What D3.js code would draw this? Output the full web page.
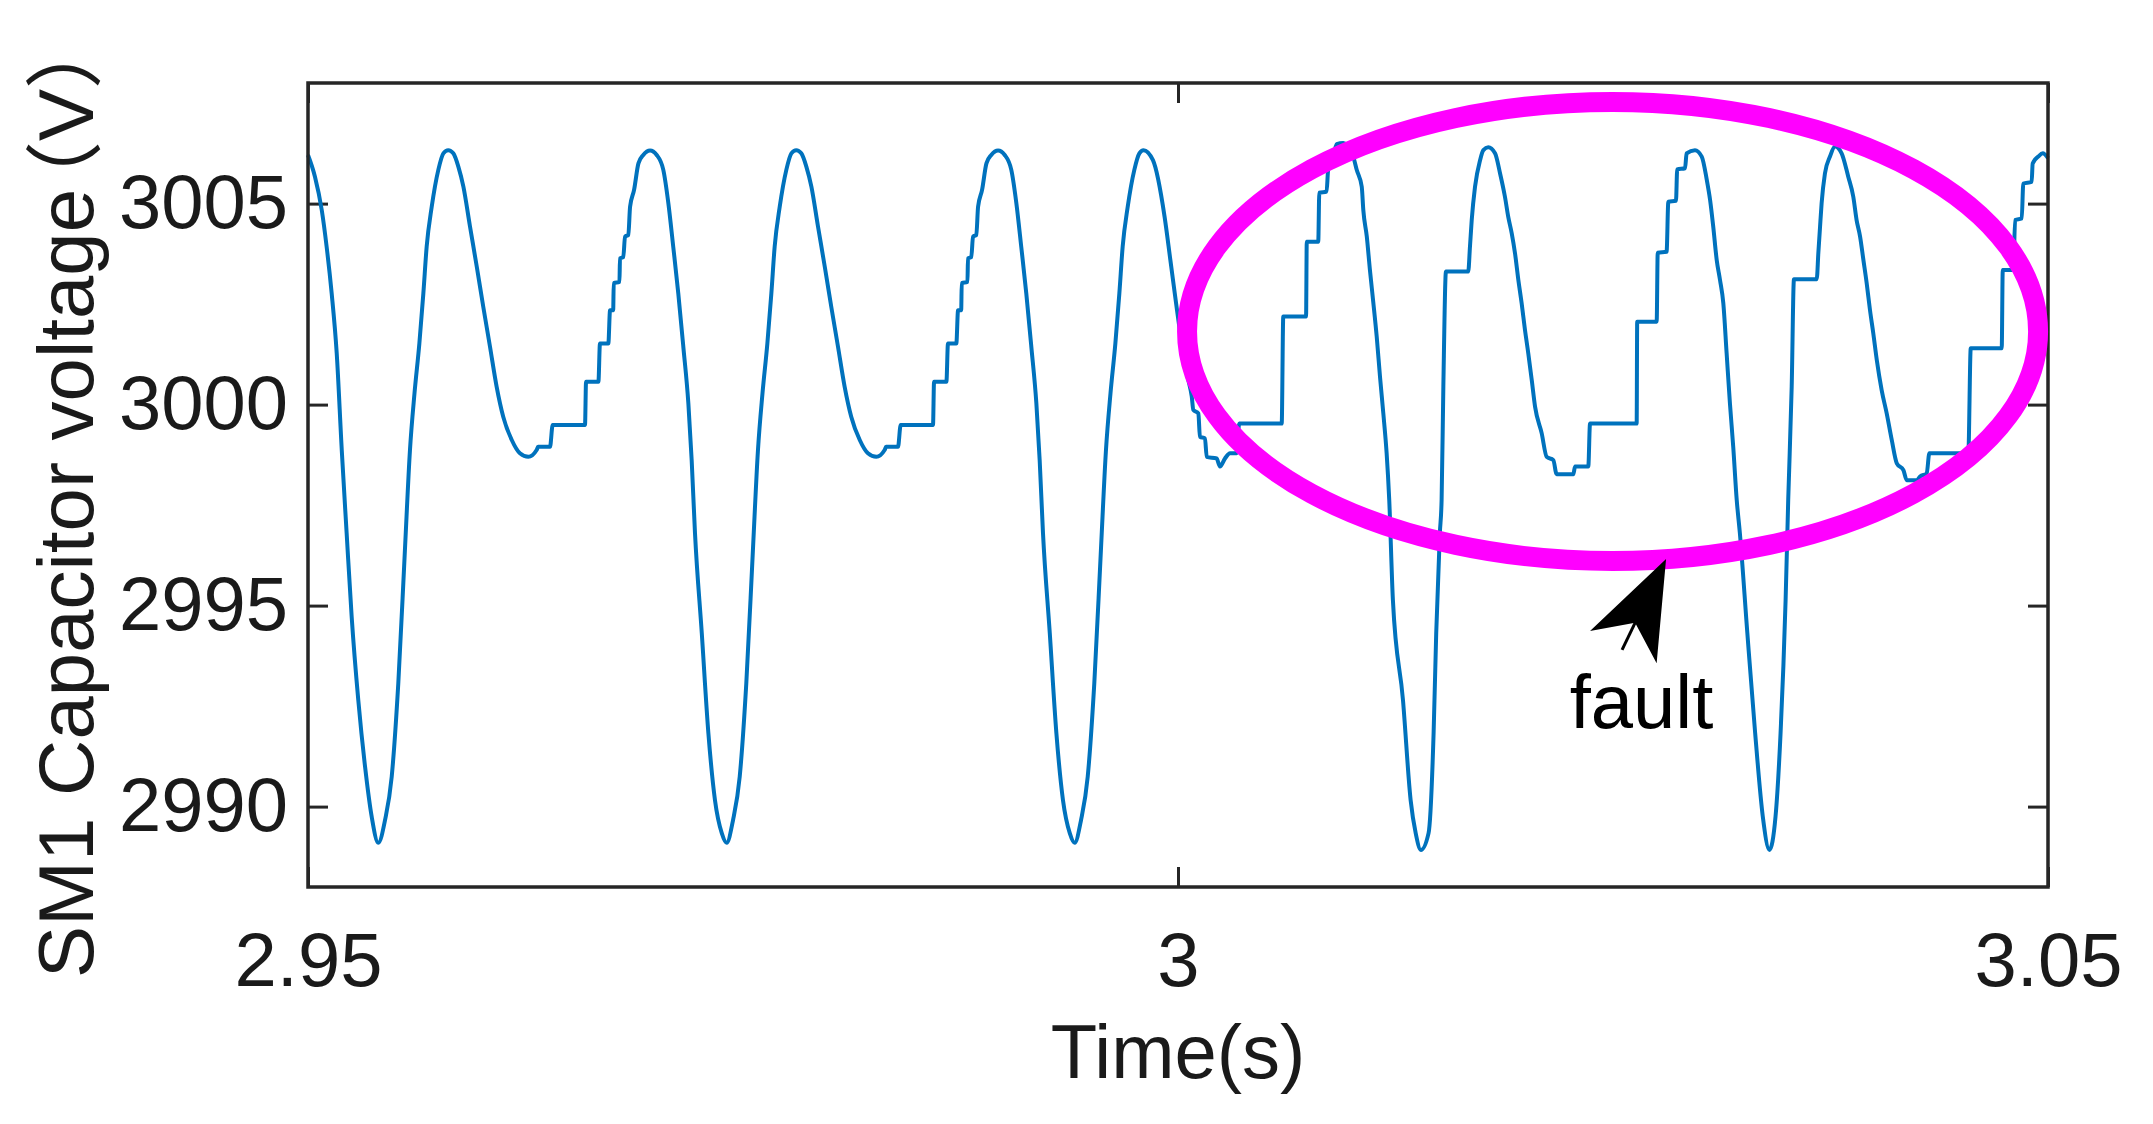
<!DOCTYPE html>
<html>
<head>
<meta charset="utf-8">
<script src="https://cdn.jsdelivr.net/npm/d3@7/dist/d3.min.js"></script>
<style>
  body { margin: 0; background: #fff; }
  text { font-family: "Liberation Sans", Arial, "Noto Sans CJK SC", sans-serif; fill: #1a1a1a; }
</style>
</head>
<body>
<div class="container"></div>
<script>
// SM1 capacitor voltage (s, V)
const timeS = [
  // start, falling edge
  2.95000, 2.95040, 2.95079, 2.95107, 2.95136, 2.95165, 2.95194, 2.95222, 2.95251, 2.95289, 2.95328, 2.95366,
  // period 1
  2.95404, 2.95443, 2.95481, 2.95519, 2.95557, 2.95586, 2.95612, 2.95640, 2.95663, 2.95682, 2.95711, 2.95749,
  2.95778, 2.95806, 2.95835, 2.95864, 2.95893, 2.95931, 2.95970, 2.96007, 2.96046, 2.96084, 2.96122, 2.96171,
  2.96218, 2.96266, 2.96314, 2.96322, 2.96391, 2.96406, 2.96592, 2.96598, 2.96669, 2.96678, 2.96726, 2.96736,
  2.96754, 2.96757, 2.96790, 2.96793, 2.96812, 2.96822, 2.96841, 2.96851, 2.96874, 2.96899, 2.96927, 2.96966,
  2.97004, 2.97042, 2.97071, 2.97099, 2.97128, 2.97157, 2.97186, 2.97205, 2.97224, 2.97263, 2.97301, 2.97339,
  2.97378, 2.97406,
  // period 2
  2.97443, 2.97481, 2.97519, 2.97557, 2.97586, 2.97612, 2.97640, 2.97663, 2.97682, 2.97711, 2.97749, 2.97778,
  2.97806, 2.97835, 2.97864, 2.97893, 2.97931, 2.97970, 2.98007, 2.98046, 2.98084, 2.98122, 2.98171, 2.98218,
  2.98266, 2.98314, 2.98322, 2.98391, 2.98406, 2.98592, 2.98598, 2.98669, 2.98678, 2.98726, 2.98736, 2.98754,
  2.98757, 2.98790, 2.98793, 2.98812, 2.98822, 2.98841, 2.98851, 2.98874, 2.98899, 2.98927, 2.98966, 2.99004,
  2.99042, 2.99071, 2.99099, 2.99128, 2.99157, 2.99186, 2.99205, 2.99224, 2.99263, 2.99301, 2.99339, 2.99378,
  2.99406,
  // period 3, fault near 3.0 s
  2.99443, 2.99481, 2.99519, 2.99557, 2.99586, 2.99612, 2.99640, 2.99663, 2.99682, 2.99711, 2.99749, 2.99778,
  2.99802, 2.99856, 2.99923, 2.99956, 2.99989, 3.00023, 3.00057, 3.00079, 3.00088, 3.00117, 3.00126, 3.00155,
  3.00165, 3.00222, 3.00241, 3.00270, 3.00299, 3.00337, 3.00352, 3.00596, 3.00605, 3.00736, 3.00740, 3.00806,
  3.00812, 3.00854, 3.00863, 3.00885, 3.00912, 3.00950, 3.01007, 3.01027, 3.01056, 3.01065, 3.01085, 3.01103,
  3.01122, 3.01142, 3.01161, 3.01180, 3.01199, 3.01214, 3.01235, 3.01293, 3.01337, 3.01366, 3.01396,
  // period 4
  3.01440, 3.01469, 3.01484, 3.01505, 3.01515, 3.01525, 3.01540, 3.01668, 3.01678, 3.01688, 3.01707, 3.01736,
  3.01755, 3.01783, 3.01822, 3.01851, 3.01879, 3.01898, 3.01918, 3.01937, 3.01956, 3.01975, 3.01994, 3.02013,
  3.02033, 3.02052, 3.02090, 3.02119, 3.02157, 3.02176, 3.02272, 3.02282, 3.02358, 3.02368, 3.02636, 3.02639,
  3.02751, 3.02757, 3.02808, 3.02818, 3.02862, 3.02869, 3.02914, 3.02923, 3.02971, 3.03010, 3.03039, 3.03058,
  3.03076, 3.03096, 3.03115, 3.03134, 3.03153, 3.03172, 3.03191, 3.03211, 3.03229, 3.03272, 3.03317, 3.03361,
  3.03399,
  // period 5
  3.03434, 3.03463, 3.03492, 3.03507, 3.03527, 3.03540, 3.03671, 3.03680, 3.03690, 3.03699, 3.03718, 3.03747,
  3.03776, 3.03814, 3.03852, 3.03881, 3.03900, 3.03920, 3.03939, 3.03958, 3.03977, 3.03996, 3.04016, 3.04044,
  3.04073, 3.04102, 3.04131, 3.04169, 3.04188, 3.04246, 3.04265, 3.04303, 3.04318, 3.04542, 3.04556, 3.04734,
  3.04740, 3.04801, 3.04811, 3.04849, 3.04858, 3.04906, 3.04912, 3.04944, 3.04970, 3.05000
];

const capVoltage = [
  3006.21, 3005.67, 3004.84, 3003.93, 3002.77, 3001.28, 2998.87, 2996.81, 2994.72, 2992.65, 2990.99, 2989.75,
  2989.10, 2989.67, 2990.74, 2993.07, 2996.38, 2998.87, 3000.28, 3001.52, 3002.77, 3003.93, 3004.92, 3005.84,
  3006.25, 3006.33, 3006.25, 3005.92, 3005.42, 3004.43, 3003.43, 3002.44, 3001.44, 3000.45, 2999.70, 2999.12,
  2998.79, 2998.70, 2998.87, 2998.95, 2998.95, 2999.49, 2999.49, 3000.57, 3000.57, 3001.52, 3001.52, 3002.35,
  3002.35, 3003.02, 3003.05, 3003.64, 3003.67, 3004.18, 3004.22, 3004.92, 3005.34, 3006.00, 3006.21, 3006.32,
  3006.21, 3005.84, 3005.01, 3003.93, 3002.77, 3001.44, 3000.03, 2998.62, 2996.81, 2994.32, 2991.83, 2990.16,
  2989.34, 2989.10,
  2989.67, 2990.74, 2993.07, 2996.38, 2998.87, 3000.28, 3001.52, 3002.77, 3003.93, 3004.92, 3005.84, 3006.25,
  3006.33, 3006.25, 3005.92, 3005.42, 3004.43, 3003.43, 3002.44, 3001.44, 3000.45, 2999.70, 2999.12, 2998.79,
  2998.70, 2998.87, 2998.95, 2998.95, 2999.49, 2999.49, 3000.57, 3000.57, 3001.52, 3001.52, 3002.35, 3002.35,
  3003.02, 3003.05, 3003.64, 3003.67, 3004.18, 3004.22, 3004.92, 3005.34, 3006.00, 3006.21, 3006.32, 3006.21,
  3005.84, 3005.01, 3003.93, 3002.77, 3001.44, 3000.03, 2998.62, 2996.81, 2994.32, 2991.83, 2990.16, 2989.34,
  2989.10,
  2989.67, 2990.74, 2993.07, 2996.38, 2998.87, 3000.28, 3001.52, 3002.77, 3003.93, 3004.92, 3005.84, 3006.25,
  3006.33, 3006.08, 3004.67, 3003.60, 3002.52, 3001.48, 3000.66, 3000.20, 2999.87, 2999.78, 2999.20, 2999.16,
  2998.70, 2998.66, 2998.46, 2998.66, 2998.79, 2998.79, 2999.53, 2999.53, 3002.19, 3002.19, 3004.05, 3004.05,
  3005.27, 3005.30, 3005.84, 3006.01, 3006.48, 3006.51, 3006.17, 3005.84, 3005.42, 3004.84, 3004.18, 3003.35,
  3002.56, 3001.69, 3000.69, 2999.78, 2998.79, 2997.63, 2995.14, 2992.65, 2990.16, 2989.34, 2988.92,
  2989.34, 2991.83, 2994.32, 2996.81, 2997.63, 3000.45, 3003.31, 3003.31, 3003.93, 3004.59, 3005.42, 3006.08,
  3006.33, 3006.40, 3006.25, 3005.75, 3005.17, 3004.67, 3004.26, 3003.76, 3003.10, 3002.52, 3001.86, 3001.28,
  3000.61, 2999.95, 2999.29, 2998.70, 2998.62, 2998.27, 2998.27, 2998.46, 2998.46, 2999.53, 2999.53, 3002.06,
  3002.06, 3003.78, 3003.80, 3005.05, 3005.07, 3005.85, 3005.88, 3006.25, 3006.33, 3006.17, 3005.59, 3005.09,
  3004.43, 3003.60, 3003.10, 3002.52, 3001.28, 3000.03, 2998.95, 2997.63, 2996.81, 2994.32, 2991.83, 2989.75,
  2988.92,
  2989.75, 2991.83, 2995.14, 2997.63, 3000.45, 3003.12, 3003.12, 3003.76, 3004.43, 3005.01, 3005.75, 3006.17,
  3006.42, 3006.25, 3005.67, 3005.17, 3004.59, 3004.18, 3003.60, 3003.02, 3002.35, 3001.77, 3001.11, 3000.36,
  2999.78, 2999.12, 2998.54, 2998.37, 2998.12, 2998.12, 2998.21, 2998.29, 2998.79, 2998.79, 3001.40, 3001.40,
  3003.35, 3003.35, 3004.59, 3004.63, 3005.50, 3005.54, 3006.00, 3006.17, 3006.25, 3006.13
];

const xTicks = [2.95, 3, 3.05];
const yTicks = [2990, 2995, 3000, 3005];
const xDomain = [2.95, 3.05];
const yDomain = [2988, 3008];

// annotation, in data units
const faultText = 'fault';
const faultTextAt = [3.02664, 2991.96];
const faultArrow = [[3.02552, 2993.90], [3.02805, 2996.16]];
const faultRingT = [3.00052, 3.04943];
const faultRingV = [2996.11, 3007.53];

const width = 2153;
const height = 1124;
const margin = { top: 83, right: 105, bottom: 237, left: 308 };
const tickLen = 20;

const svg = d3
  .select('.container')
  .append('svg')
  .attr('width', width)
  .attr('height', height);

const x = d3.scaleLinear().domain(xDomain).range([margin.left, width - margin.right]);
const y = d3.scaleLinear().domain(yDomain).range([height - margin.bottom, margin.top]);

// axes, MATLAB style: ticks inside, box on
const axisStyle = g => {
  g.select('.domain').remove();
  g.selectAll('.tick line').attr('stroke', '#262626').attr('stroke-width', 3);
  g.selectAll('.tick text').attr('fill', '#1a1a1a').style('font-size', '76px');
};

svg.append('g')
  .attr('transform', `translate(0, ${height - margin.bottom})`)
  .call(d3.axisBottom(x).tickValues(xTicks).tickSize(-tickLen).tickPadding(45).tickFormat(d => String(d)))
  .call(axisStyle);

svg.append('g')
  .attr('transform', `translate(0, ${margin.top})`)
  .call(d3.axisTop(x).tickValues(xTicks).tickSize(-tickLen).tickFormat(''))
  .call(axisStyle);

svg.append('g')
  .attr('transform', `translate(${margin.left}, 0)`)
  .call(d3.axisLeft(y).tickValues(yTicks).tickSize(-tickLen).tickPadding(20).tickFormat(d => String(d)))
  .call(axisStyle);

svg.append('g')
  .attr('transform', `translate(${width - margin.right}, 0)`)
  .call(d3.axisRight(y).tickValues(yTicks).tickSize(-tickLen).tickFormat(''))
  .call(axisStyle);

// the series
const line = d3.line()
  .curve(d3.curveMonotoneX)
  .x(d => x(d[0]))
  .y(d => y(d[1]));

svg.append('path')
  .datum(d3.zip(timeS, capVoltage))
  .attr('fill', 'none')
  .attr('stroke', '#0072BD')
  .attr('stroke-width', 4)
  .attr('stroke-linejoin', 'round')
  .attr('d', line);

// box
svg.append('rect')
  .attr('x', x(xDomain[0]))
  .attr('y', y(yDomain[1]))
  .attr('width', x(xDomain[1]) - x(xDomain[0]))
  .attr('height', y(yDomain[0]) - y(yDomain[1]))
  .attr('fill', 'none')
  .attr('stroke', '#262626')
  .attr('stroke-width', 3.5);

// magenta ring round the fault region
svg.append('ellipse')
  .attr('cx', x(d3.mean(faultRingT)))
  .attr('cy', y(d3.mean(faultRingV)))
  .attr('rx', (x(faultRingT[1]) - x(faultRingT[0])) / 2)
  .attr('ry', (y(faultRingV[0]) - y(faultRingV[1])) / 2)
  .attr('fill', 'none')
  .attr('stroke', '#FF00FF')
  .attr('stroke-width', 20);

// arrow
const tail = [x(faultArrow[0][0]), y(faultArrow[0][1])];
const tip = [x(faultArrow[1][0]), y(faultArrow[1][1])];
const len = Math.hypot(tip[0] - tail[0], tip[1] - tail[1]);
const ux = (tip[0] - tail[0]) / len;
const uy = (tip[1] - tail[1]) / len;
const back = (d, s) => [tip[0] - ux * d - uy * s, tip[1] - uy * d + ux * s];

svg.append('line')
  .attr('x1', tail[0]).attr('y1', tail[1])
  .attr('x2', back(70, 0)[0]).attr('y2', back(70, 0)[1])
  .attr('stroke', '#000')
  .attr('stroke-width', 3);

svg.append('path')
  .attr('d', d3.line()([tip, back(98, -37), back(71, 0), back(98, 37)]) + 'Z')
  .attr('fill', '#000');

svg.append('text')
  .attr('x', x(faultTextAt[0]))
  .attr('y', y(faultTextAt[1]))
  .attr('text-anchor', 'middle')
  .style('font-size', '76px')
  .style('fill', '#000')
  .text(faultText);

// axis titles
svg.append('text')
  .attr('x', x(3))
  .attr('y', 1078)
  .attr('text-anchor', 'middle')
  .style('font-size', '76px')
  .text('Time(s)');

const yTitle = svg.append('text')
  .attr('transform', 'translate(93, 978) rotate(-90)')
  .style('font-size', '78px');
yTitle.append('tspan').text('SM1 Capacitor voltage');
yTitle.append('tspan').attr('dx', -30).style('font-family', '"Noto Sans CJK SC"').text('（');
yTitle.append('tspan').text('V');
yTitle.append('tspan').style('font-family', '"Noto Sans CJK SC"').text('）');
</script>
</body>
</html>
